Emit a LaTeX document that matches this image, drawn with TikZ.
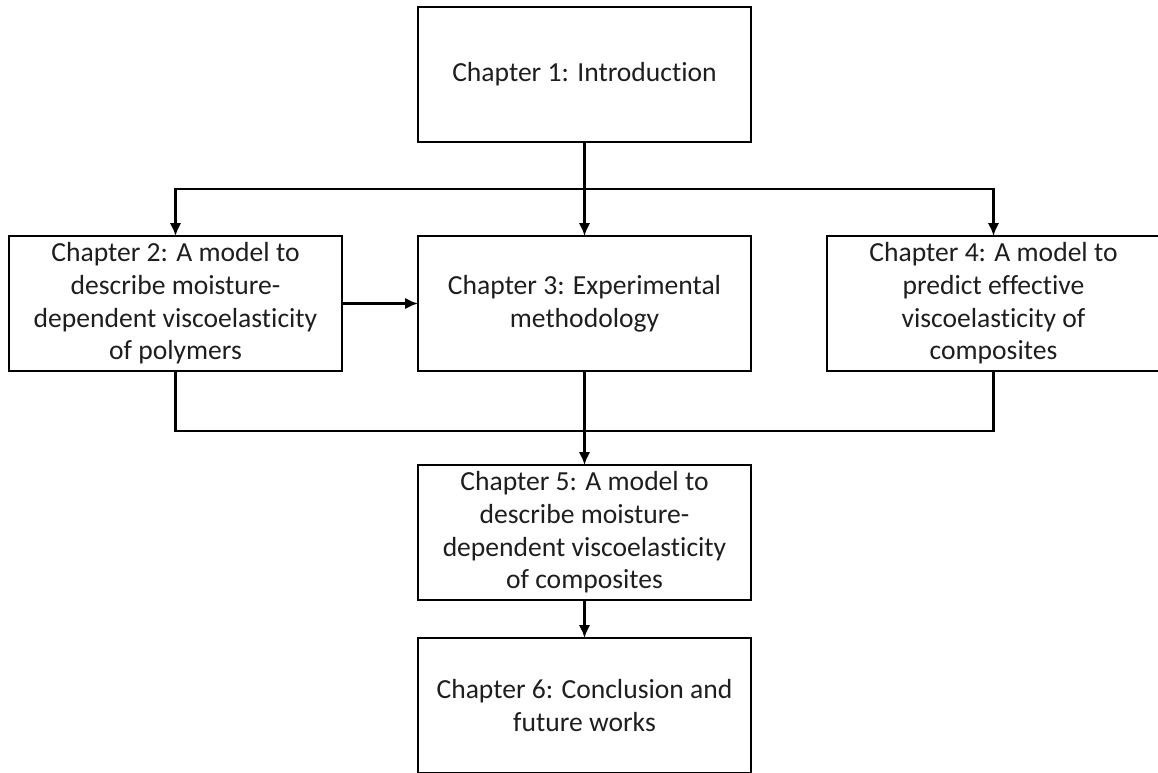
\documentclass[tikz,border=0pt]{standalone}
\usepackage{fontspec}
\setmainfont{Carlito}[Ligatures=NoCommon]
\usepackage{tikz}
\usetikzlibrary{positioning,calc,arrows.meta}
\definecolor{textgray}{RGB}{30,30,30}

\begin{document}
\begin{tikzpicture}[every node/.style={font=\fontsize{15.7}{18.6}\selectfont, text=textgray}]
  \tikzstyle{chap}=[draw, line width=1.3pt, align=center, minimum width=6.66cm, minimum height=2.7cm, inner sep=2pt, outer sep=0pt]
  \tikzstyle{arr}=[line width=1.3pt, -{Latex[length=2.6mm,width=2.3mm]}]
  \tikzstyle{link}=[line width=1.3pt]
  \useasboundingbox (0,0) rectangle (23.16,-15.44);
  \node[chap] (ch1) at (11.69,-1.49) {Chapter 1: Introduction};
  \node[chap, below=1.88cm of ch1] (ch3) {Chapter 3: Experimental\\ methodology};
  \node[chap, left=1.52cm of ch3] (ch2) {Chapter 2: A model to\\ describe moisture-\\ dependent viscoelasticity\\ of polymers};
  \node[chap, right=1.52cm of ch3] (ch4) {Chapter 4: A model to\\ predict effective\\ viscoelasticity of\\ composites};
  \node[chap, below=1.88cm of ch3] (ch5) {Chapter 5: A model to\\ describe moisture-\\ dependent viscoelasticity\\ of composites};
  \node[chap, below=0.76cm of ch5] (ch6) {Chapter 6: Conclusion and\\ future works};
  % branch and merge points
  \coordinate (split) at ($(ch1.south)!0.5!(ch3.north)$);
  \coordinate (merge) at ($(ch3.south)!0.64!(ch5.north)$);
  \draw[arr] (ch1.south) -- (ch3.north);
  \draw[arr] (split) -| (ch2.north);
  \draw[arr] (split) -| (ch4.north);
  \draw[arr] (ch2.east) -- (ch3.west);
  \draw[link] (ch2.south) |- (merge);
  \draw[link] (ch4.south) |- (merge);
  \draw[arr] (ch3.south) -- (ch5.north);
  \draw[arr] (ch5.south) -- (ch6.north);
\end{tikzpicture}
\end{document}
